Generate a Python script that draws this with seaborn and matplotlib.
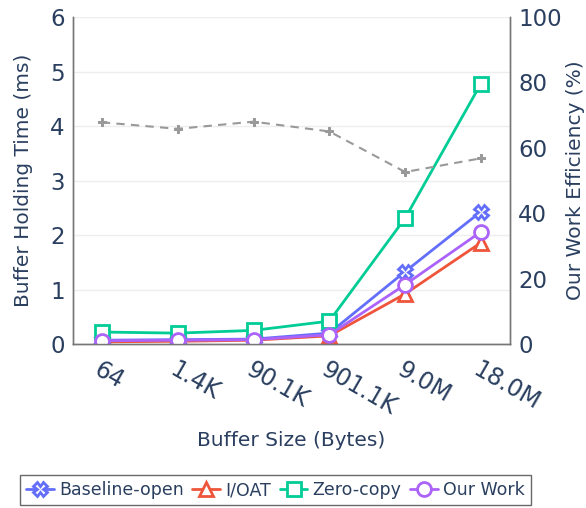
import matplotlib
matplotlib.use("Agg")
import matplotlib.pyplot as plt
import seaborn as sns
import pandas as pd
from matplotlib.lines import Line2D

sizes = ["64", "1.4K", "90.1K", "901.1K", "9.0M", "18.0M"]
baseline_open = [0.07, 0.08, 0.09, 0.20, 1.33, 2.43]
ioat = [0.04, 0.05, 0.07, 0.15, 0.92, 1.86]
zero_copy = [0.22, 0.20, 0.25, 0.42, 2.31, 4.78]
our_work = [0.06, 0.07, 0.08, 0.17, 1.09, 2.06]
efficiency = [67.8, 65.8, 68.0, 65.0, 52.6, 56.8]

sns.set_theme(style="white")
plt.rcParams['font.family'] = ['DejaVu Sans']

TXT = "#2a3f5f"
fig = plt.figure(figsize=(5.86, 5.08), dpi=100)
ax = fig.add_axes([0.1246, 0.3228, 0.7454, 0.6437])
ax2 = ax.twinx()

series = [
    ("Baseline-open", baseline_open, "#636efa", "X"),
    ("I/OAT", ioat, "#EF553B", "^"),
    ("Zero-copy", zero_copy, "#00cc96", "s"),
    ("Our Work", our_work, "#ab63fa", "o"),
]

for name, vals, col, mk in series:
    df = pd.DataFrame({"size": sizes, "val": vals})
    sns.lineplot(data=df, x="size", y="val", ax=ax, color=col, lw=2, sort=False,
                 marker=mk, markersize=10, markerfacecolor="white",
                 markeredgecolor=col, markeredgewidth=2, zorder=3)

dfe = pd.DataFrame({"size": sizes, "eff": efficiency})
sns.lineplot(data=dfe, x="size", y="eff", ax=ax2, color="#999999", lw=1.5, sort=False,
             linestyle=(0, (4, 3)), marker="P", markersize=6,
             markerfacecolor="#999999", markeredgecolor="#999999", zorder=2)

ax.set_xlim(-0.38, 5.38)
ax.set_ylim(0, 6)
ax2.set_ylim(0, 100)
ax.set_yticks(range(0, 7))
ax2.set_yticks(range(0, 101, 20))

ax.grid(axis="y", color="#eeeeee", lw=1)
ax.grid(axis="x", visible=False)
ax2.grid(False)

ax.tick_params(axis="y", labelsize=16.5, colors=TXT, length=0, pad=6)
ax2.tick_params(axis="y", labelsize=16.5, colors=TXT, length=0, pad=6)
ax.tick_params(axis="x", labelsize=17, colors=TXT, length=0, pad=10)
for lbl in ax.get_xticklabels():
    lbl.set_rotation(-30)
    lbl.set_ha("left")
    lbl.set_rotation_mode("anchor")

ax.set_xlabel("Buffer Size (Bytes)", fontsize=14.5, color=TXT, labelpad=8)
ax.set_ylabel("Buffer Holding Time (ms)", fontsize=14.5, color=TXT, labelpad=12)
ax2.set_ylabel("Our Work Efficiency (%)", fontsize=14.5, color=TXT, labelpad=3)
ax2.set_xlabel("")

for a in (ax, ax2):
    a.spines["top"].set_visible(False)
    for s in ("left", "bottom", "right"):
        a.spines[s].set_color("#777777")
        a.spines[s].set_linewidth(1)

handles = [Line2D([0], [0], color=c, lw=2, marker=m, markersize=10,
                  markerfacecolor="white", markeredgecolor=c, markeredgewidth=2)
           for _, _, c, m in series]
labels = [s[0] for s in series]
leg = fig.legend(handles, labels, loc="lower center", bbox_to_anchor=(0.47, 0.0),
                 ncol=4, fontsize=12.5, frameon=True, fancybox=False,
                 handlelength=1.6, handletextpad=0.3, columnspacing=0.5,
                 borderpad=0.35, borderaxespad=0.15, labelcolor=TXT)
leg.get_frame().set_edgecolor("#444444")
leg.get_frame().set_linewidth(1)

fig.savefig("out.png", dpi=100)
